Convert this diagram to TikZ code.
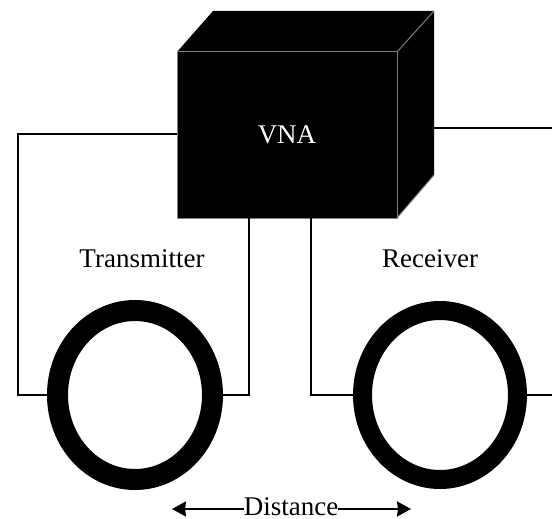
\documentclass[tikz,border=0pt]{standalone}
\usepackage{fontspec}
\setmainfont{Liberation Serif}
\usetikzlibrary{positioning,arrows.meta,shapes.geometric}
\tikzset{
    front/.style={
        rectangle, draw=black!50, fill=black,
        line width=1pt, minimum width=220pt,
        minimum height=166pt, inner sep=0pt, outer sep=0pt,
        text=white, font=\fontsize{27}{27}\selectfont
    },
    coil/.style={
        ellipse, draw=black, line width=21pt,
        minimum width=155pt, minimum height=169pt,
        inner sep=0pt, outer sep=0pt
    },
    caption/.style={
        inner sep=0pt, font=\fontsize{27}{27}\selectfont
    },
    wire/.style={line width=1.6pt},
    span/.style={line width=2pt, {Stealth[length=14pt,width=15pt,inset=1pt]}-}
}
\begin{document}
\begin{tikzpicture}[x=1pt, y=-1pt]
        \useasboundingbox (0,0) rectangle (552,519);

        % Box
        \fill[black] (177,52) -- (213,11) -- (434,11) -- (434,175) -- (397,218) -- cycle;
        \node[front] (vna) at (287,135) {VNA};
        \draw[black!50, line width=1pt] (vna.north east) -- (434,11);
        \draw[black!50, line width=1pt] (vna.south east) -- (434,175);

        % Coils
        \node[coil] (tx) at (135,395) {};
        \node[coil, line width=19pt] (rx) at (440,395) {};

        % Labels
        \node[caption] (txlabel) at (142,259) {Transmitter};
        \node[caption] (rxlabel) at (430,259) {Receiver};
        \node[caption] (dist) at (291,507) {Distance};

        % Free ends
        \coordinate (txleft) at (18,134);
        \coordinate (txright) at (249,395);
        \coordinate (rxleft) at (311,395);
        \coordinate (vnaside) at (434,128);
        \coordinate (sideout) at (552,128);
        \coordinate (rxout) at (552,395);
        \coordinate (distl) at (172,509);
        \coordinate (distr) at (411,509);

        % Wires
        \draw[wire] (vna.west |- txleft) -- (txleft) -- (txleft |- tx.west) -- (tx.west);
        \draw[wire] (vna.south -| txright) -- (txright) -- (tx.east);
        \draw[wire] (vna.south -| rxleft) -- (rxleft) -- (rx.west);
        \draw[wire] (vnaside) -- (sideout);
        \draw[wire] (rx.east) -- (rxout);

        % Distance
        \draw[span] (distl) -- (dist.west |- distl);
        \draw[span] (distr) -- (dist.east |- distr);

    \end{tikzpicture}
\end{document}
